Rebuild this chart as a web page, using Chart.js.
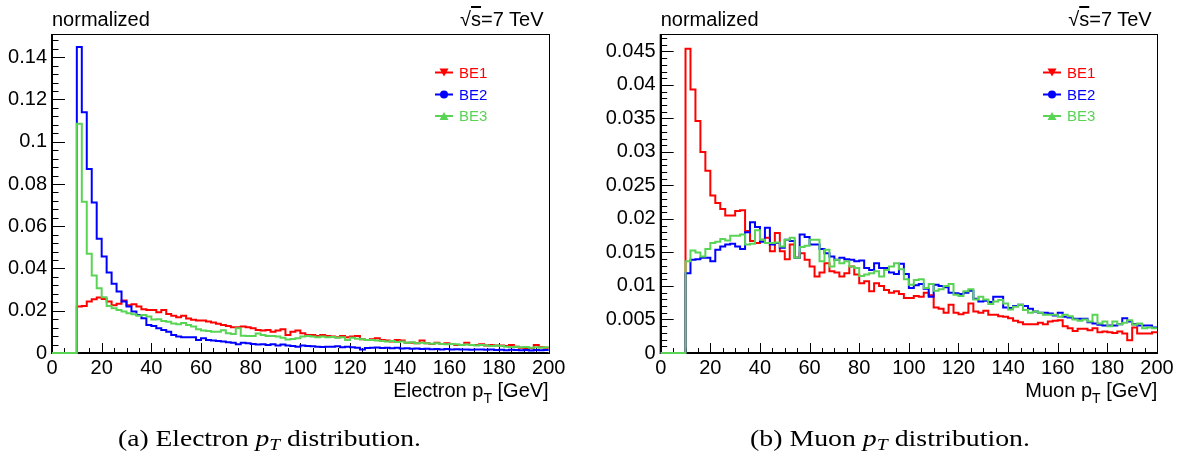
<!DOCTYPE html>
<html>
<head>
<meta charset="utf-8">
<script src="https://cdn.jsdelivr.net/npm/chart.js@4.4.0/dist/chart.umd.min.js"></script>
<style>
  html, body { margin: 0; padding: 0; background: #fff; }
  body { width: 1181px; height: 463px; position: relative; overflow: hidden; }
  .pane { position: absolute; top: 0; }
  #paneE { left: 0; }
  #paneM { left: 590px; }
  #overlay { position: absolute; left: 0; top: 0; pointer-events: none; }
  #overlay text { font-family: 'Liberation Sans', Arial, sans-serif; }
  #overlay text.caption { font-family: 'Liberation Serif', 'Times New Roman', serif; }
</style>
</head>
<body>
<div class="pane" id="paneE"><canvas id="chartE" width="590" height="410"></canvas></div>
<div class="pane" id="paneM"><canvas id="chartM" width="591" height="410"></canvas></div>

<svg id="overlay" width="1181" height="463" xmlns="http://www.w3.org/2000/svg">
  <!-- left panel texts -->
  <text x="52" y="26" font-size="20">normalized</text>
  <text x="543.5" y="26" font-size="20" text-anchor="end">√<tspan text-decoration="overline">s</tspan>=7 TeV</text>
  <text x="548.7" y="397" font-size="20" text-anchor="end">Electron p<tspan font-size="14" dy="6">T</tspan><tspan dy="-6"> [GeV]</tspan></text>
  <g id="legendE"></g>
  <!-- right panel texts -->
  <text x="660.7" y="26" font-size="20">normalized</text>
  <text x="1151.7" y="26" font-size="20" text-anchor="end">√<tspan text-decoration="overline">s</tspan>=7 TeV</text>
  <text x="1157.3" y="397" font-size="20" text-anchor="end">Muon p<tspan font-size="14" dy="6">T</tspan><tspan dy="-6"> [GeV]</tspan></text>
  <g id="legendM"></g>
  <!-- captions -->
  <text class="caption" x="118" y="446" font-size="24" textLength="303" lengthAdjust="spacingAndGlyphs">(a) Electron <tspan font-style="italic">p</tspan><tspan font-style="italic" font-size="17" dy="4">T</tspan><tspan dy="-4"> distribution.</tspan></text>
  <text class="caption" x="750" y="446" font-size="24" textLength="280" lengthAdjust="spacingAndGlyphs">(b) Muon <tspan font-style="italic">p</tspan><tspan font-style="italic" font-size="17" dy="4">T</tspan><tspan dy="-4"> distribution.</tspan></text>
</svg>

<script>
// histogram binning: 2 GeV bins from 0 to 200 GeV
const xLow = 0;
const binWidth = 2;

const seriesNames = ['BE1', 'BE2', 'BE3'];
const seriesColors = ['#ff0000', '#0000ff', '#59d454'];

// Electron pT, normalized (bins 0-10 GeV empty)
const eBE1 = [0, 0, 0, 0, 0,
  0.0220,0.0223,0.0244,0.0255,0.0263,0.0256,0.0244,0.0226,0.0233,0.0249,
  0.0226,0.0231,0.0220,0.0207,0.0204,0.0204,0.0193,0.0204,0.0185,0.0176,
  0.0169,0.0176,0.0163,0.0157,0.0154,0.0154,0.0149,0.0144,0.0138,0.0133,
  0.0128,0.0122,0.0122,0.0125,0.0122,0.0117,0.0109,0.0106,0.0109,0.0101,
  0.0106,0.0112,0.0085,0.0101,0.0106,
  0.0093,0.0085,0.0085,0.0081,0.0085,0.0081,0.0078,0.0074,0.0081,0.0074,
  0.0078,0.0081,0.0065,0.0062,0.0065,0.0070,0.0062,0.0059,0.0054,0.0062,
  0.0059,0.0049,0.0049,0.0046,0.0059,0.0046,0.0043,0.0049,0.0043,0.0046,
  0.0043,0.0038,0.0038,0.0049,0.0038,0.0038,0.0041,0.0035,0.0038,0.0035,
  0.0035,0.0033,0.0038,0.0030,0.0025,0.0022,0.0022,0.0038,0.0027,0.0025];

const eBE2 = [0, 0, 0, 0, 0,
  0.1448,0.1140,0.0871,0.0712,0.0541,0.0457,0.0381,0.0328,0.0291,0.0244,
  0.0220,0.0196,0.0180,0.0165,0.0133,0.0128,0.0117,0.0109,0.0101,0.0085,
  0.0078,0.0074,0.0074,0.0074,0.0062,0.0070,0.0062,0.0059,0.0057,0.0054,
  0.0051,0.0049,0.0041,0.0049,0.0046,0.0043,0.0040,0.0041,0.0038,0.0041,
  0.0036,0.0040,0.0035,0.0033,0.0030,0.0036,0.0033,0.0032,0.0030,0.0028,
  0.0030,0.0030,0.0032,0.0027,0.0030,0.0027,0.0025,0.0016,0.0024,0.0025,
  0.0026,0.0024,0.0025,0.0023,0.0025,0.0021,0.0022,0.0020,0.0021,0.0019,
  0.0020,0.0018,0.0019,0.0017,0.0019,0.0017,0.0018,0.0016,0.0017,0.0015,
  0.0017,0.0016,0.0015,0.0016,0.0014,0.0015,0.0013,0.0015,0.0014,0.0013,
  0.0014,0.0012,0.0014,0.0013,0.0014];

const eBE3 = [0, 0, 0, 0, 0,
  0.1085,0.0716,0.0470,0.0367,0.0307,0.0264,0.0222,0.0212,0.0204,0.0196,
  0.0188,0.0184,0.0176,0.0180,0.0173,0.0158,0.0160,0.0152,0.0148,0.0140,
  0.0136,0.0142,0.0133,0.0125,0.0112,0.0106,0.0104,0.0101,0.0101,0.0108,
  0.0093,0.0090,0.0117,0.0082,0.0081,0.0081,0.0092,0.0085,0.0081,0.0080,
  0.0078,0.0072,0.0064,0.0066,0.0070,
  0.0078,0.0081,0.0078,0.0074,0.0078,0.0074,0.0076,0.0072,0.0074,0.0062,
  0.0072,0.0068,0.0065,0.0062,0.0062,0.0059,0.0057,0.0054,0.0057,0.0052,
  0.0054,0.0049,0.0051,0.0046,0.0049,0.0046,0.0044,0.0046,0.0043,0.0041,
  0.0043,0.0041,0.0038,0.0040,0.0038,0.0036,0.0038,0.0035,0.0033,0.0035,
  0.0033,0.0030,0.0028,0.0030,0.0027,0.0028,0.0025,0.0027,0.0025,0.0027];

// Muon pT, normalized
const mBE1 = [0, 0, 0, 0, 0,
  0.0454,0.0393,0.0346,0.0300,0.0272,0.0235,0.0224,0.0215,0.0205,0.0205,
  0.0212,0.0213,0.0182,0.0167,0.0164,0.0169,0.0172,0.0152,0.0179,0.0152,
  0.0140,0.0162,0.0142,0.0149,0.0139,0.0129,0.0114,0.0120,0.0134,0.0122,
  0.0120,0.0114,0.0119,0.0129,0.0117,0.0104,0.0107,0.0092,0.0104,0.0100,
  0.0094,0.0090,0.0092,0.0088,0.0082,0.0082,0.0085,0.0084,0.0090,0.0086,
  0.0068,0.0066,0.0060,0.0072,0.0060,0.0058,0.0060,0.0074,0.0062,0.0060,
  0.0063,0.0057,0.0057,0.0055,0.0054,0.0052,0.0048,0.0046,0.0043,0.0043,
  0.0043,0.0045,0.0043,0.0047,0.0048,0.0049,0.0040,0.0037,0.0033,0.0036,
  0.0036,0.0034,0.0037,0.0031,0.0032,0.0031,0.0030,0.0032,0.0029,0.0019,
  0.0038,0.0029,0.0029,0.0029,0.0031];

const mBE2 = [0, 0, 0, 0, 0,
  0.0119,0.0139,0.0140,0.0142,0.0142,0.0137,0.0154,0.0159,0.0162,0.0163,
  0.0159,0.0155,0.0180,0.0195,0.0188,0.0166,0.0187,0.0162,0.0164,0.0157,
  0.0169,0.0167,0.0142,0.0177,0.0173,0.0162,0.0162,0.0155,0.0149,0.0144,
  0.0139,0.0142,0.0140,0.0139,0.0137,0.0138,0.0127,0.0124,0.0134,0.0127,
  0.0127,0.0120,0.0118,0.0133,0.0118,0.0097,0.0101,0.0103,0.0096,0.0084,
  0.0102,0.0100,0.0098,0.0090,0.0089,0.0088,0.0090,0.0093,0.0081,0.0077,
  0.0078,0.0076,0.0084,0.0084,0.0068,0.0067,0.0070,0.0072,0.0070,0.0066,
  0.0062,0.0060,0.0060,0.0059,0.0056,0.0060,0.0054,0.0053,0.0051,0.0051,
  0.0051,0.0046,0.0044,0.0042,0.0041,0.0041,0.0041,0.0043,0.0052,0.0047,
  0.0043,0.0041,0.0041,0.0041,0.0038];

const mBE3 = [0, 0, 0, 0, 0,
  0.0137,0.0153,0.0150,0.0144,0.0155,0.0164,0.0166,0.0170,0.0168,0.0175,
  0.0175,0.0177,0.0162,0.0163,0.0183,0.0169,0.0164,0.0164,0.0165,0.0159,
  0.0169,0.0172,0.0142,0.0158,0.0160,0.0169,0.0169,0.0137,0.0154,0.0129,
  0.0139,0.0134,0.0137,0.0129,0.0127,0.0115,0.0117,0.0119,0.0122,0.0114,
  0.0124,0.0129,0.0134,0.0125,0.0110,0.0102,0.0109,0.0110,0.0097,0.0103,
  0.0093,0.0095,0.0100,0.0103,0.0087,0.0085,0.0092,0.0095,0.0080,0.0084,
  0.0080,0.0073,0.0077,0.0079,0.0074,0.0065,0.0069,0.0072,0.0064,0.0060,
  0.0062,0.0060,0.0057,0.0057,0.0057,0.0054,0.0057,0.0055,0.0050,0.0048,
  0.0050,0.0047,0.0057,0.0044,0.0047,0.0040,0.0047,0.0043,0.0045,0.0049,
  0.0042,0.0044,0.0037,0.0038,0.0037];

// axis ticks
const xTicks = [0, 20, 40, 60, 80, 100, 120, 140, 160, 180, 200];
const eYTicks = [0, 0.02, 0.04, 0.06, 0.08, 0.1, 0.12, 0.14];
const mYTicks = [0, 0.005, 0.01, 0.015, 0.02, 0.025, 0.03, 0.035, 0.04, 0.045];

// low edge of every bin, plus the closing edge
function histPoints(vals) {
	let pts = [];
	for (let i = 0; i < vals.length; i++) {
		pts.push({x: xLow + i * binWidth, y: vals[i]});
	}
	pts.push({x: xLow + vals.length * binWidth, y: vals[vals.length - 1]});
	return pts;
}

// ROOT style frame with ticks pointing into the pad
const rootFrame = {
	id: 'rootFrame',
	beforeDatasetsDraw(chart, args, opts) {
		const ctx = chart.ctx;
		const a = chart.chartArea;
		const x = chart.scales.x;
		const y = chart.scales.y;
		ctx.save();
		ctx.strokeStyle = '#000';
		ctx.lineWidth = 1;
		ctx.beginPath();
		for (let i = 0; xLow + i * opts.xMinor <= x.max + 1e-9; i++) {
			let v = xLow + i * opts.xMinor;
			let px = Math.round(x.getPixelForValue(v)) + 0.5;
			let len = (i % opts.xSub === 0) ? 10 : 5;
			ctx.moveTo(px, a.bottom);
			ctx.lineTo(px, a.bottom - len);
		}
		for (let i = 0; i * opts.yMinor <= y.max + 1e-12; i++) {
			let py = Math.round(y.getPixelForValue(i * opts.yMinor)) + 0.5;
			let len = (i % opts.ySub === 0) ? 13 : 6.5;
			ctx.moveTo(a.left, py);
			ctx.lineTo(a.left + len, py);
		}
		ctx.stroke();
		ctx.strokeRect(Math.round(a.left) + 0.5, Math.round(a.top) + 0.5, Math.round(a.width), Math.round(a.height));
		ctx.lineWidth = 2;
		ctx.beginPath();
		ctx.moveTo(a.left, a.top);
		ctx.lineTo(a.left, a.bottom);
		ctx.lineTo(a.right, a.bottom);
		ctx.stroke();
		ctx.restore();
	}
};

function makeDatasets(series) {
	return series.map((vals, i) => ({
		label: seriesNames[i],
		data: histPoints(vals),
		borderColor: seriesColors[i],
		backgroundColor: seriesColors[i],
		borderWidth: 2,
		stepped: 'before',
		pointRadius: 0,
		fill: false,
		clip: 4,
		order: 3 - i
	}));
}

function makeChart(id, series, yTicks, yMax, yMinor, yAxisWidth, padRight) {
	const tickFont = {family: "'Liberation Sans', Arial, sans-serif", size: 20};
	const config = {
		type: 'line',
		data: {datasets: makeDatasets(series)},
		options: {
			responsive: false,
			animation: false,
			layout: {padding: {left: 0, right: padRight, top: 34, bottom: 0}},
			scales: {
				x: {
					type: 'linear',
					min: 0,
					max: 200,
					afterBuildTicks: (s) => { s.ticks = xTicks.map(v => ({value: v})); },
					afterFit: (s) => { s.height = 57; },
					grid: {display: false, drawTicks: false},
					border: {display: false},
					ticks: {color: '#000', font: tickFont, padding: 3, maxRotation: 0, autoSkip: false,
						callback: (v) => String(v)}
				},
				y: {
					type: 'linear',
					min: 0,
					max: yMax,
					afterBuildTicks: (s) => { s.ticks = yTicks.map(v => ({value: v})); },
					afterFit: (s) => { s.width = yAxisWidth; },
					grid: {display: false, drawTicks: false},
					border: {display: false},
					ticks: {color: '#000', font: tickFont, padding: 5,
						callback: (v) => String(+v.toFixed(4))}
				}
			},
			plugins: {
				legend: {display: false},
				tooltip: {enabled: false},
				rootFrame: {xMinor: 5, xSub: 4, yMinor: yMinor, ySub: 5}
			}
		},
		plugins: [rootFrame]
	};
	return new Chart(document.getElementById(id), config);
}

// legend: short line with the marker in the middle, coloured label
function drawLegend(groupId, lineX0, textX, rows) {
	const ns = 'http://www.w3.org/2000/svg';
	const g = document.getElementById(groupId);
	const markers = ['down', 'circle', 'up'];
	for (let i = 0; i < seriesNames.length; i++) {
		let cy = rows[i];
		let cx = lineX0 + 9;
		let line = document.createElementNS(ns, 'line');
		line.setAttribute('x1', lineX0); line.setAttribute('x2', lineX0 + 18);
		line.setAttribute('y1', cy); line.setAttribute('y2', cy);
		line.setAttribute('stroke', seriesColors[i]); line.setAttribute('stroke-width', 2);
		g.appendChild(line);
		let m;
		if (markers[i] === 'circle') {
			m = document.createElementNS(ns, 'circle');
			m.setAttribute('cx', cx); m.setAttribute('cy', cy); m.setAttribute('r', 4);
		} else {
			m = document.createElementNS(ns, 'polygon');
			let pts = markers[i] === 'down'
				? [[cx - 4.5, cy - 4], [cx + 4.5, cy - 4], [cx, cy + 4]]
				: [[cx - 4.5, cy + 4], [cx + 4.5, cy + 4], [cx, cy - 4]];
			m.setAttribute('points', pts.map(p => p.join(',')).join(' '));
		}
		m.setAttribute('fill', seriesColors[i]);
		g.appendChild(m);
		let t = document.createElementNS(ns, 'text');
		t.setAttribute('x', textX); t.setAttribute('y', cy + 5.3);
		t.setAttribute('font-size', 15); t.setAttribute('fill', seriesColors[i]);
		t.textContent = seriesNames[i];
		g.appendChild(t);
	}
}

makeChart('chartE', [eBE1, eBE2, eBE3], eYTicks, 0.151, 0.004, 52, 41.3);
makeChart('chartM', [mBE1, mBE2, mBE3], mYTicks, 0.0476, 0.001, 70.7, 24);
drawLegend('legendE', 435, 459, [72.5, 94.5, 116]);
drawLegend('legendM', 1043, 1067, [72.5, 94.5, 116]);
</script>
</body>
</html>
